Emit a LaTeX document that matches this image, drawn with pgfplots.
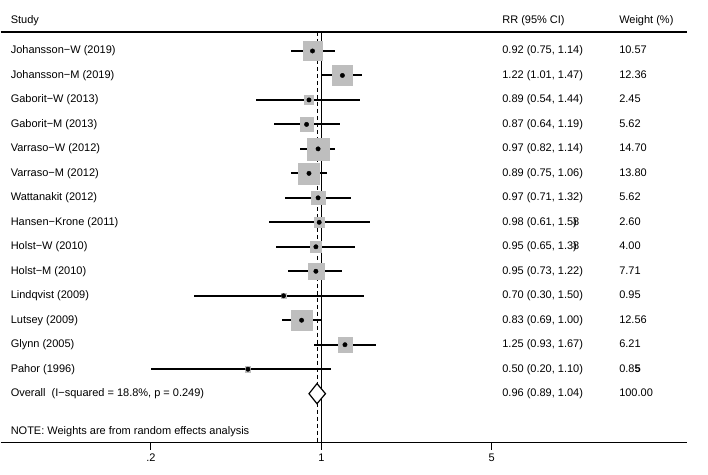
\documentclass[border=0pt,11pt]{standalone}
\usepackage{pgfplots}
\pgfplotsset{compat=1.18}
\usepackage{pgfplotstable}
\usepackage{fontspec}
\setmainfont{Liberation Sans}

\definecolor{sqgray}{RGB}{190,190,190}

% row, RR, lower, upper, weight (%)
\pgfplotstableread{
row rr   lo   hi   w
1   0.92 0.75 1.14 10.57
2   1.22 1.01 1.47 12.36
3   0.89 0.54 1.44 2.45
4   0.87 0.64 1.19 5.62
5   0.97 0.82 1.14 14.70
6   0.89 0.75 1.06 13.80
7   0.97 0.71 1.32 5.62
8   0.98 0.61 1.58 2.60
9   0.95 0.65 1.38 4.00
10  0.95 0.73 1.22 7.71
11  0.70 0.30 1.50 0.95
12  0.83 0.69 1.00 12.56
13  1.25 0.93 1.67 6.21
14  0.50 0.20 1.10 0.85
}\studies

\tikzset{col/.style={anchor=mid west, inner xsep=0pt}}
\newcommand{\entry}[4]{%
  \node[col] at ({rel axis cs:0.01456,0}|-{axis cs:1,-#1}) {#2};
  \node[col] at ({rel axis cs:0.7307,0}|-{axis cs:1,-#1}) {#3};
  \node[col] at ({rel axis cs:0.901,0}|-{axis cs:1,-#1}) {#4};
}

\begin{document}
\begin{tikzpicture}[font=\fontsize{11pt}{13pt}\selectfont]
\begin{axis}[
  at={(0pt,0pt)}, anchor=south west,
  scale only axis, width=687pt, height=411pt,
  xmode=log, xmin=0.04836, xmax=31.62,
  ymin=-17, ymax=-0.2245,
  axis x line=bottom, axis y line=none,
  axis line style={-, line width=1pt, black},
  xtick={0.2,1,5}, xticklabels={.2,1,5},
  minor xtick={}, tick align=outside, major tick length=7pt,
  tick style={line width=1pt, black},
  ticklabel style={font=\fontsize{11pt}{13pt}\selectfont},
  clip=false,
]
  \draw[line width=1.2pt] (rel axis cs:0,1) -- (rel axis cs:1,1);

  % null line and overall estimate
  \addplot[black, line width=0.8pt] coordinates {(1,-0.2245) (1,-17)};
  \addplot[black, line width=0.8pt, dash pattern=on 4pt off 3pt] coordinates {(0.96,-0.2245) (0.96,-17)};

  % weight boxes
  \addplot[scatter, only marks, mark=square*,
    scatter/use mapped color={draw=sqgray, fill=sqgray},
    visualization depends on={2.87*sqrt(\thisrow{w}) \as \msize},
    scatter/@pre marker code/.append style={/tikz/mark size=\msize pt}]
    table[x=rr, y expr=-\thisrow{row}] {\studies};

  % estimates with CI
  \addplot[black, only marks, mark=*, mark size=2.2pt,
    error bars/.cd, x dir=both, x explicit, error mark=none,
    error bar style={line width=2pt, black}]
    table[x=rr, y expr=-\thisrow{row},
      x error plus expr=\thisrow{hi}-\thisrow{rr},
      x error minus expr=\thisrow{rr}-\thisrow{lo}] {\studies};

  % overall diamond
  \addplot[black, line width=1.2pt, fill=white] coordinates
    {(0.89,-15) (0.96,-14.59) (1.04,-15) (0.96,-15.41)} -- cycle;

  \entry{-0.224}{Study}{RR (95\% CI)}{Weight (\%)}
  \entry{1}{Johansson−W (2019)}{0.92 (0.75, 1.14)}{10.57}
  \entry{2}{Johansson−M (2019)}{1.22 (1.01, 1.47)}{12.36}
  \entry{3}{Gaborit−W (2013)}{0.89 (0.54, 1.44)}{2.45}
  \entry{4}{Gaborit−M (2013)}{0.87 (0.64, 1.19)}{5.62}
  \entry{5}{Varraso−W (2012)}{0.97 (0.82, 1.14)}{14.70}
  \entry{6}{Varraso−M (2012)}{0.89 (0.75, 1.06)}{13.80}
  \entry{7}{Wattanakit (2012)}{0.97 (0.71, 1.32)}{5.62}
  \entry{8}{Hansen−Krone (2011)}{0.98 (0.61, 1.5\rlap{)}8}{2.60}
  \entry{9}{Holst−W (2010)}{0.95 (0.65, 1.3\rlap{)}8}{4.00}
  \entry{10}{Holst−M (2010)}{0.95 (0.73, 1.22)}{7.71}
  \entry{11}{Lindqvist (2009)}{0.70 (0.30, 1.50)}{0.95}
  \entry{12}{Lutsey (2009)}{0.83 (0.69, 1.00)}{12.56}
  \entry{13}{Glynn (2005)}{1.25 (0.93, 1.67)}{6.21}
  \entry{14}{Pahor (1996)}{0.50 (0.20, 1.10)}{0.8\textbf{5}}
  \entry{15}{Overall\ \ (I−squared = 18.8\%, p = 0.249)}{0.96 (0.89, 1.04)}{100.00}
  \node[col] at ({rel axis cs:0.01456,0}|-{axis cs:1,-16.55})
    {NOTE: Weights are from random effects analysis};
\end{axis}
\path (0pt,-32pt) rectangle (708pt,443pt);
\end{tikzpicture}
\end{document}
